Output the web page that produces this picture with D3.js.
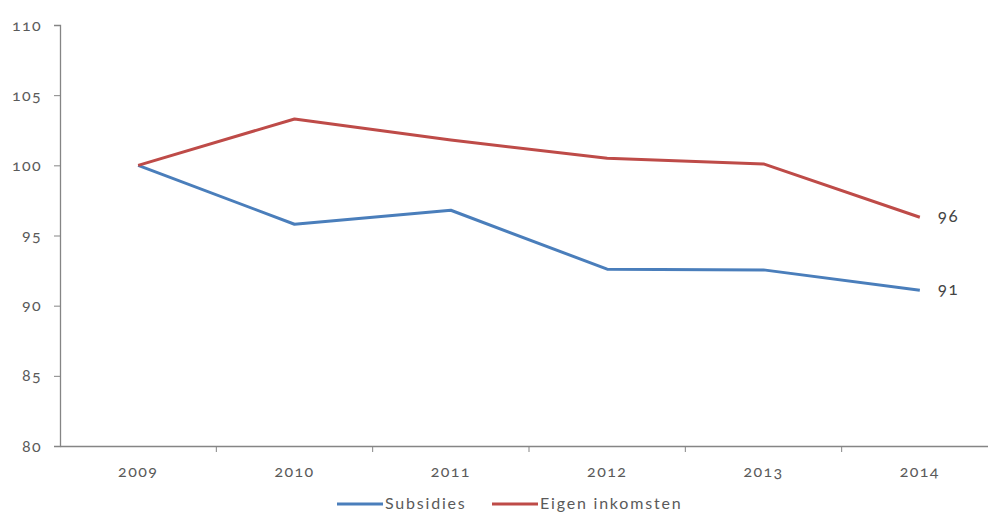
<!DOCTYPE html>
<html><head><meta charset="utf-8">
<script src="https://cdn.jsdelivr.net/npm/d3@7"></script>
<style>body{margin:0;background:#fff}svg{display:block}
text{font-feature-settings:"onum" 1;font-variant-numeric:oldstyle-nums}</style>
</head><body>
<svg id="c" width="988" height="513"></svg>
<script>
const years = ["2009","2010","2011","2012","2013","2014"];
const subsidies = [100, 95.8, 96.8, 92.6, 92.55, 91.1];
const eigenInkomsten = [100, 103.3, 101.8, 100.5, 100.1, 96.3];
const yTicks = [80, 85, 90, 95, 100, 105, 110];
const seriesNames = ["Subsidies", "Eigen inkomsten"];
const seriesColors = ["#4a7ebb", "#be4b48"];
const endLabels = ["91", "96"];

const svg = d3.select("#c");
const font = "Lato, 'Open Sans', sans-serif";
const x = d3.scaleBand().domain(years).range([60, 998]);
const y = d3.scaleLinear().domain([80, 110]).range([446, 25]);
const axisColor = "#858585", textColor = "#5a5a5a";

// y axis
const ya = svg.append("g").attr("transform","translate(60,0)")
  .call(d3.axisLeft(y).tickValues(yTicks).tickSize(6).tickPadding(12));
ya.select(".domain").attr("stroke",axisColor).attr("stroke-width",1.3);
ya.selectAll(".tick line").attr("stroke",axisColor);
ya.selectAll(".tick text").attr("fill",textColor).style("font-family",font)
  .style("font-size","16px").style("letter-spacing","1.4px");

// x axis
const xa = svg.append("g").attr("transform","translate(0,446)")
  .call(d3.axisBottom(x).tickSize(0).tickPadding(20));
xa.select(".domain").attr("stroke",axisColor).attr("stroke-width",1.3);
xa.selectAll(".tick text").attr("fill",textColor).style("font-family",font)
  .style("font-size","16px").style("letter-spacing","1.4px");
// boundary ticks between categories
xa.selectAll("line.bt").data(years.slice(1)).enter().append("line")
  .attr("class","bt")
  .attr("x1",d=>x(d)).attr("x2",d=>x(d)).attr("y1",0).attr("y2",6)
  .attr("stroke",axisColor);

const line = d3.line().x((d,i)=>x(years[i])+x.bandwidth()/2).y(d=>y(d));
[subsidies, eigenInkomsten].forEach((s,k)=>{
  svg.append("path").datum(s).attr("d",line).attr("fill","none")
    .attr("stroke",seriesColors[k]).attr("stroke-width",3).attr("stroke-linejoin","round");
  svg.append("text").attr("x", x(years[5])+x.bandwidth()/2+18).attr("y", y(s[5])+5)
    .text(endLabels[k]).attr("fill","#444").style("font-family",font)
    .style("font-size","17px").style("letter-spacing","1.5px");
});

// legend
const lg = [{x:337},{x:492}];
seriesNames.forEach((n,k)=>{
  svg.append("line").attr("x1",lg[k].x).attr("x2",lg[k].x+46).attr("y1",504).attr("y2",504)
    .attr("stroke",seriesColors[k]).attr("stroke-width",3);
  svg.append("text").attr("x",lg[k].x+48).attr("y",509).text(n)
    .attr("fill",textColor).style("font-family",font)
    .style("font-size","16px").style("letter-spacing","1.8px");
});
</script>
</body></html>
